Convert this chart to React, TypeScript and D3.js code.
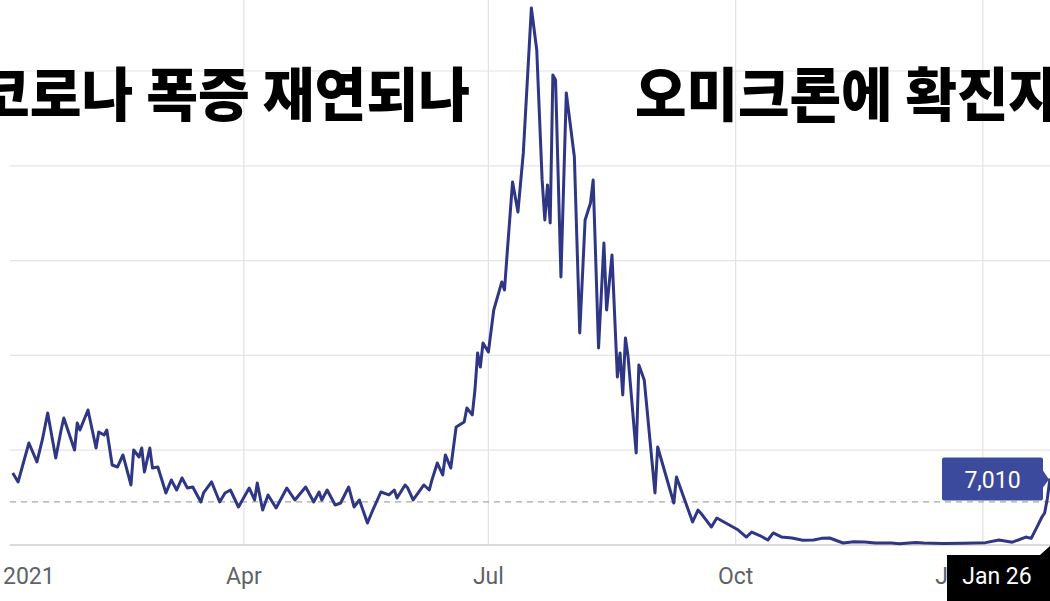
import * as React from 'react';
import { select, scaleTime, scaleLinear, line, timeParse, format } from 'd3';

// Indonesia daily new cases (irregular sample dates)
const dates = [
  "2021-01-05", "2021-01-07", "2021-01-11", "2021-01-14", "2021-01-16", "2021-01-18", "2021-01-21", "2021-01-23",
  "2021-01-24", "2021-01-28", "2021-01-29", "2021-01-30", "2021-02-02", "2021-02-05", "2021-02-06", "2021-02-08",
  "2021-02-09", "2021-02-11", "2021-02-13", "2021-02-15", "2021-02-18", "2021-02-19", "2021-02-21", "2021-02-22",
  "2021-02-23", "2021-02-25", "2021-02-26", "2021-02-28", "2021-03-03", "2021-03-05", "2021-03-07", "2021-03-09",
  "2021-03-11", "2021-03-13", "2021-03-16", "2021-03-17", "2021-03-20", "2021-03-23", "2021-03-25", "2021-03-27",
  "2021-03-30", "2021-04-03", "2021-04-05", "2021-04-06", "2021-04-08", "2021-04-10", "2021-04-13", "2021-04-17",
  "2021-04-20", "2021-04-24", "2021-04-27", "2021-04-29", "2021-04-30", "2021-05-02", "2021-05-05", "2021-05-07",
  "2021-05-10", "2021-05-12", "2021-05-14", "2021-05-17", "2021-05-19", "2021-05-22", "2021-05-25", "2021-05-27",
  "2021-05-28", "2021-05-31", "2021-06-01", "2021-06-03", "2021-06-07", "2021-06-09", "2021-06-10", "2021-06-12",
  "2021-06-14", "2021-06-15", "2021-06-17", "2021-06-19", "2021-06-22", "2021-06-23", "2021-06-25", "2021-06-26",
  "2021-06-27", "2021-06-28", "2021-06-29", "2021-07-01", "2021-07-03", "2021-07-06", "2021-07-07", "2021-07-08",
  "2021-07-10", "2021-07-12", "2021-07-14", "2021-07-17", "2021-07-19", "2021-07-21", "2021-07-22", "2021-07-23",
  "2021-07-24", "2021-07-25", "2021-07-26", "2021-07-28", "2021-07-30", "2021-08-02", "2021-08-04", "2021-08-06",
  "2021-08-08", "2021-08-09", "2021-08-11", "2021-08-13", "2021-08-14", "2021-08-16", "2021-08-18", "2021-08-19",
  "2021-08-20", "2021-08-21", "2021-08-22", "2021-08-25", "2021-08-26", "2021-08-28", "2021-09-01", "2021-09-02",
  "2021-09-08", "2021-09-09", "2021-09-15", "2021-09-17", "2021-09-18", "2021-09-22", "2021-09-24", "2021-09-30",
  "2021-10-02", "2021-10-05", "2021-10-07", "2021-10-10", "2021-10-13", "2021-10-15", "2021-10-18", "2021-10-22",
  "2021-10-26", "2021-10-30", "2021-11-02", "2021-11-05", "2021-11-10", "2021-11-14", "2021-11-18", "2021-11-22",
  "2021-11-28", "2021-12-01", "2021-12-07", "2021-12-10", "2021-12-17", "2021-12-25", "2022-01-02", "2022-01-07",
  "2022-01-12", "2022-01-17", "2022-01-19", "2022-01-21", "2022-01-23", "2022-01-24", "2022-01-25", "2022-01-26"
];

const cases = [
  7600, 6650, 10760, 8760, 11080, 13930, 9180, 12130,
  13400, 10020, 12870, 12130, 14240, 10230, 11920, 11600,
  12130, 8440, 8230, 9500, 6330, 10020, 9280, 10230,
  7700, 10230, 8120, 8230, 5490, 6860, 5800, 7070,
  6010, 6120, 4540, 5490, 6650, 4540, 5490, 5800,
  4010, 6010, 4750, 6540, 3690, 5280, 3900, 6010,
  4750, 6120, 4540, 5590, 4750, 5800, 4220, 4430,
  6120, 4010, 4750, 2320, 3690, 5590, 5280, 5800,
  4960, 6330, 6010, 4750, 6330, 5800, 6860, 8650,
  7390, 9500, 8120, 12450, 12980, 14450, 13720, 16350,
  20260, 18780, 21310, 20360, 24790, 27750, 26900, 30810,
  38300, 35130, 41360, 56650, 52220, 38510, 34290, 37980,
  33970, 49590, 49060, 28270, 47690, 40930, 22370, 34290,
  36080, 38510, 20780, 31860, 24790, 30600, 17720, 20260,
  15830, 21840, 19830, 9710, 18990, 17410, 5490, 10340,
  4430, 7170, 2430, 3690, 3380, 1900, 2850, 1900,
  1580, 840, 1370, 1000, 530, 1270, 850, 740,
  500, 530, 700, 740, 210, 350, 320, 200,
  210, 130, 260, 200, 150, 180, 250, 530,
  300, 840, 700, 1800, 2950, 3380, 4880, 7010
];

const tickDates = ["2021-01-01", "2021-04-01", "2021-07-01", "2021-10-01", "2022-01-01"];
const tickLabels = ["Jan 2021", "Apr", "Jul", "Oct", "Jan 2022"];
const gridValues = [10000, 20000, 30000, 40000, 50000];
const referenceLevel = 4540;

const headlineLeft = "코로나 폭증 재연되나";
const headlineRight = "오미크론에 확진자";
const hoverDateLabel = "Jan 26";

const App = () => {
  const svgRef = React.useRef<SVGSVGElement>(null);

  React.useEffect(() => {
    if (!svgRef.current) {
      return;
    }
    const width = 1050;
    const height = 601;
    const plotLeft = 10;
    const baseY = 545;
    const parse = timeParse("%Y-%m-%d");

    const svg = select(svgRef.current);
    svg.selectAll("*").remove();
    svg.attr("width", width).attr("height", height).style("background", "#fff");

    const data = dates.map((d, i) => ({ date: parse(d)!, value: cases[i] }));

    const xScale = scaleTime()
      .domain([parse("2021-01-01")!, parse("2022-01-26")!])
      .range([2, 1050]);
    const yScale = scaleLinear()
      .domain([0, 10000])
      .range([baseY, baseY - 94.8]);

    svg.append("clipPath")
      .attr("id", "plot-clip")
      .append("rect")
      .attr("x", plotLeft)
      .attr("y", 0)
      .attr("width", width - plotLeft)
      .attr("height", baseY + 4);

    // vertical grid
    svg.append("g")
      .selectAll("line")
      .data(tickDates.slice(1))
      .join("line")
      .attr("x1", d => xScale(parse(d)!))
      .attr("x2", d => xScale(parse(d)!))
      .attr("y1", 0)
      .attr("y2", baseY)
      .attr("stroke", "#e2e2e2")
      .attr("stroke-width", 1.2);

    // horizontal grid
    svg.append("g")
      .selectAll("line")
      .data(gridValues)
      .join("line")
      .attr("x1", plotLeft)
      .attr("x2", width)
      .attr("y1", d => yScale(d))
      .attr("y2", d => yScale(d))
      .attr("stroke", "#e4e4e4")
      .attr("stroke-width", 1.2);

    svg.append("line")
      .attr("x1", plotLeft)
      .attr("x2", width)
      .attr("y1", yScale(0))
      .attr("y2", yScale(0))
      .attr("stroke", "#cfcfcf")
      .attr("stroke-width", 1.5);

    // headlines
    svg.append("text")
      .attr("x", -22)
      .attr("y", 116)
      .attr("textLength", 492)
      .attr("lengthAdjust", "spacingAndGlyphs")
      .style("font-family", "'Noto Sans CJK KR', sans-serif")
      .style("font-weight", 900)
      .style("font-size", "58px")
      .attr("fill", "#000")
      .text(headlineLeft);

    svg.append("text")
      .attr("x", 635)
      .attr("y", 116)
      .attr("textLength", 425)
      .attr("lengthAdjust", "spacingAndGlyphs")
      .style("font-family", "'Noto Sans CJK KR', sans-serif")
      .style("font-weight", 900)
      .style("font-size", "58px")
      .attr("fill", "#000")
      .text(headlineRight);

    // dashed reference line
    svg.append("line")
      .attr("x1", plotLeft)
      .attr("x2", width)
      .attr("y1", yScale(referenceLevel))
      .attr("y2", yScale(referenceLevel))
      .attr("stroke", "#a8a8a8")
      .attr("stroke-width", 1.3)
      .attr("stroke-dasharray", "6,5");

    const path = line<{ date: Date, value: number }>()
      .x(d => xScale(d.date))
      .y(d => yScale(d.value));

    svg.append("path")
      .datum(data)
      .attr("clip-path", "url(#plot-clip)")
      .attr("fill", "none")
      .attr("stroke", "#2f3785")
      .attr("stroke-width", 3)
      .attr("stroke-linejoin", "round")
      .attr("d", path);

    // x labels
    svg.append("g")
      .selectAll("text")
      .data(tickDates)
      .join("text")
      .attr("x", d => xScale(parse(d)!))
      .attr("dx", (d, i) => i === 0 ? 5 : 0)
      .attr("y", 584)
      .attr("text-anchor", "middle")
      .style("font-family", "Roboto, sans-serif")
      .style("font-size", "23px")
      .attr("fill", "#5f6368")
      .text((d, i) => tickLabels[i]);

    // hover tooltip on the last point
    const last = data[data.length - 1];
    const px = xScale(last.date);
    const py = yScale(last.value);
    const boxRight = px - 7;
    const boxLeft = px - 108;

    svg.append("rect")
      .attr("x", boxLeft)
      .attr("y", py - 21)
      .attr("width", boxRight - boxLeft)
      .attr("height", 43)
      .attr("rx", 2)
      .attr("fill", "#3b4a9c");
    svg.append("path")
      .attr("d", `M${boxRight},${py - 8} L${boxRight + 6},${py + 1} L${boxRight},${py + 9} Z`)
      .attr("fill", "#3b4a9c");
    svg.append("text")
      .attr("x", (boxLeft + boxRight) / 2)
      .attr("y", py + 9)
      .attr("text-anchor", "middle")
      .style("font-family", "Roboto, sans-serif")
      .style("font-size", "23px")
      .attr("fill", "#fff")
      .text(format(",")(last.value));

    const dateBoxLeft = px - 103;
    svg.append("path")
      .attr("d", `M${dateBoxLeft},555 L${px - 10},555 L${px},546 L${px + 6},546 L${px + 6},${height} L${dateBoxLeft},${height} Z`)
      .attr("fill", "#000");
    svg.append("text")
      .attr("x", dateBoxLeft + 50)
      .attr("y", 584)
      .attr("text-anchor", "middle")
      .style("font-family", "Roboto, sans-serif")
      .style("font-size", "23px")
      .attr("fill", "#fff")
      .text(hoverDateLabel);
  }, [svgRef]);

  return (
    <div style={{ position: 'absolute', left: 0, top: 0, width: 1050, height: 601, overflow: 'hidden' }}>
      <svg ref={svgRef} style={{ display: 'block' }}></svg>
    </div>
  );
}

export default App;
